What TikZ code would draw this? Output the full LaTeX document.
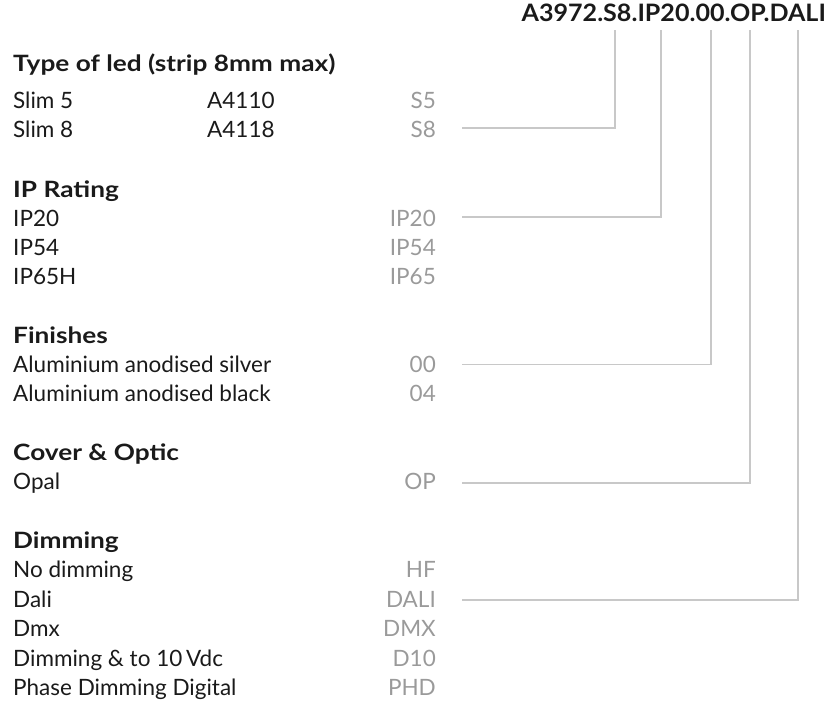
\documentclass[tikz,border=0pt]{standalone}
\usepackage{fontspec}
\setmainfont{Lato}
\newfontfamily\headfont{Lato}[FakeStretch=1.165]
\newfontfamily\codefont{Lato}[FakeStretch=1.045]
\definecolor{txt}{HTML}{1A1A1A}
\definecolor{codegray}{HTML}{9A9A9A}
\definecolor{linegray}{HTML}{C8C8C8}
\tikzset{
  lbl/.style={anchor=base west, inner sep=0pt, text=txt, font=\fontsize{22.5}{27}\selectfont},
  head/.style={lbl, font=\headfont\fontsize{22.5}{27}\selectfont\bfseries},
  mid/.style={lbl},
  code/.style={anchor=base east, inner sep=0pt, text=codegray, font=\fontsize{22.5}{27}\selectfont},
  conn/.style={draw=linegray, line width=1.6pt},
}
\begin{document}
\begin{tikzpicture}[x=1pt,y=-1pt]
\useasboundingbox (0,0) rectangle (832,706);
% header code
\node[anchor=base east, inner sep=0pt, text=txt, font=\codefont\fontsize{24}{28}\selectfont\bfseries] (hdr) at (826,22) {A3972.S8.IP20.00.OP.DALI};
\coordinate (hS8) at (615,30);
\coordinate (hIP) at (661,30);
\coordinate (h00) at (711,30);
\coordinate (hOP) at (750,30);
\coordinate (hDA) at (798,30);
% Type of led
\node[head] (t1) at (13,72) {Type of led (strip 8mm max)};
\node[lbl] (t1a) at (13,109) {Slim 5};
\node[mid] (t1am) at (207,109) {A4110};
\node[code] (s5) at (436,109) {S5};
\node[lbl] (t1b) at (13,138) {Slim 8};
\node[mid] (t1bm) at (207,138) {A4118};
\node[code] (s8) at (436,138) {S8};
% IP Rating
\node[head] (t2) at (13,197) {IP Rating};
\node[lbl] (t2a) at (13,226) {IP20};
\node[code] (ip20) at (436,226) {IP20};
\node[lbl] (t2b) at (13,255) {IP54};
\node[code] (ip54) at (436,255) {IP54};
\node[lbl] (t2c) at (13,284.5) {IP65H};
\node[code] (ip65) at (436,284.5) {IP65};
% Finishes
\node[head] (t3) at (13,343.5) {Finishes};
\node[lbl] (t3a) at (13,372.5) {Aluminium anodised silver};
\node[code] (f00) at (436,372.5) {00};
\node[lbl] (t3b) at (13,401.5) {Aluminium anodised black};
\node[code] (f04) at (436,401.5) {04};
% Cover & Optic
\node[head] (t4) at (13,460.5) {Cover \& Optic};
\node[lbl] (t4a) at (13,489.5) {Opal};
\node[code] (op) at (436,489.5) {OP};
% Dimming
\node[head] (t5) at (13,548.5) {Dimming};
\node[lbl] (t5a) at (13,577.5) {No dimming};
\node[code] (hf) at (436,577.5) {HF};
\node[lbl] (t5b) at (13,607) {Dali};
\node[code] (dali) at (436,607) {DALI};
\node[lbl] (t5c) at (13,636.5) {Dmx};
\node[code] (dmx) at (436,636.5) {DMX};
\node[lbl] (t5d) at (13,666) {Dimming \& to 10\,Vdc};
\node[code] (d10) at (436,666) {D10};
\node[lbl] (t5e) at (13,695) {Phase Dimming Digital};
\node[code] (phd) at (436,695) {PHD};
% connectors
\draw[conn] ([shift={(26,-10)}]s8.base east) -| (hS8);
\draw[conn] ([shift={(26,-9.3)}]ip20.base east) -| (hIP);
\draw[conn] ([shift={(26,-8.2)}]f00.base east) -| (h00);
\draw[conn] ([shift={(26,-6.8)}]op.base east) -| (hOP);
\draw[conn] ([shift={(26,-7.3)}]dali.base east) -| (hDA);
\end{tikzpicture}
\end{document}
